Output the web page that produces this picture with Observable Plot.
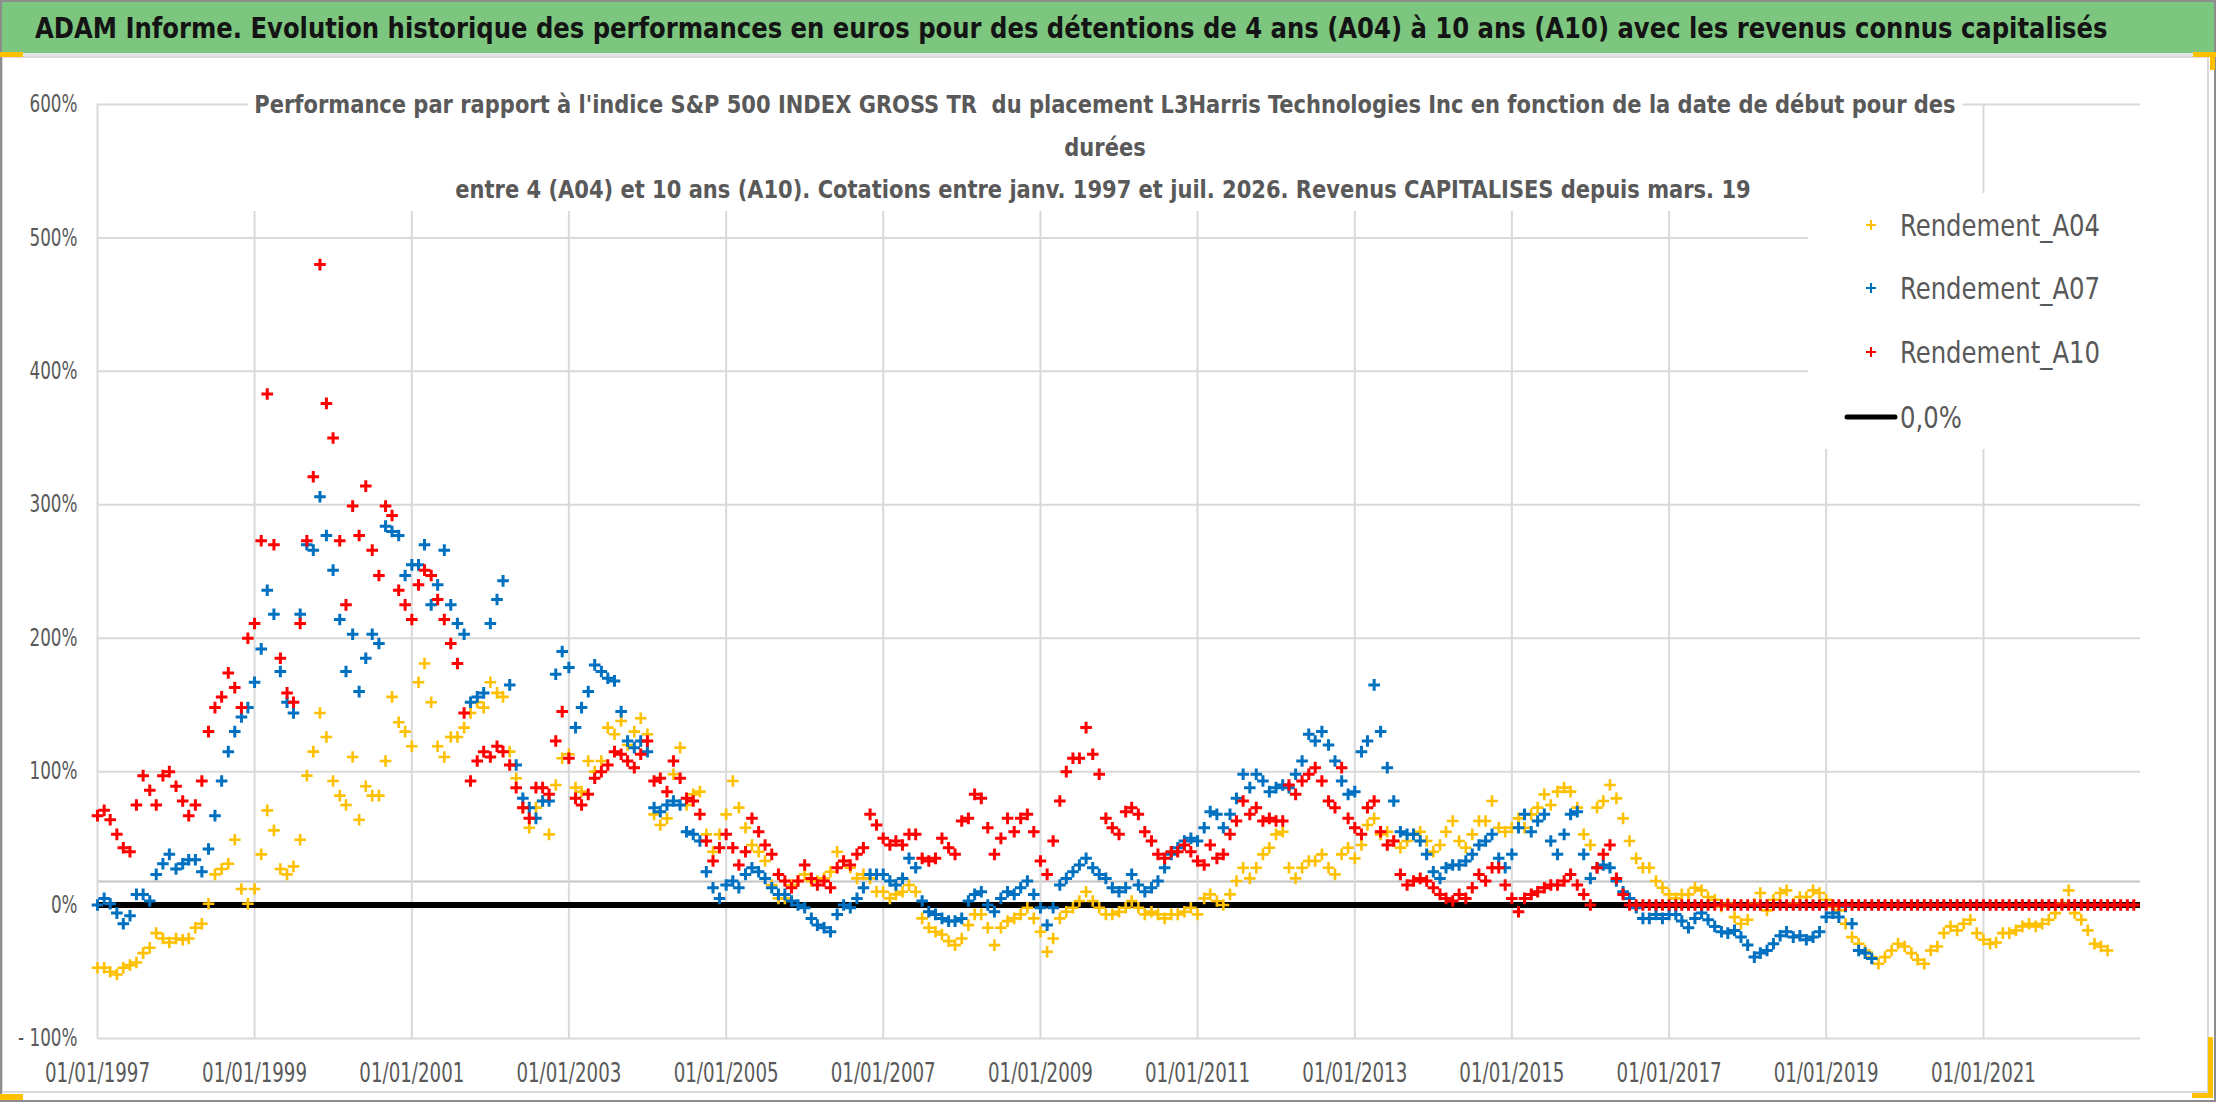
<!DOCTYPE html>
<html><head><meta charset="utf-8">
<script src="https://cdn.jsdelivr.net/npm/d3@7"></script>
<script src="https://cdn.jsdelivr.net/npm/@observablehq/plot@0.6"></script>
<style>
html,body{margin:0;padding:0;background:#fff}
#page{position:relative;width:2216px;height:1102px;overflow:hidden;background:#fff}
#outer{position:absolute;left:0;top:0;width:2216px;height:1102px;box-sizing:border-box;border:2px solid #8c8c8c;pointer-events:none}
#area{position:absolute;left:1px;top:56px;width:2208px;height:1037px;box-sizing:border-box;border:2px solid #d9d9d9;pointer-events:none}
#chart{position:absolute;left:0;top:56px}
#banner{position:absolute;left:0;top:0}
.h{position:absolute;background:#ffc000}
</style></head><body>
<div id="page">
  <svg id="banner" width="2216" height="56"></svg>
  <div id="area"></div>
  <div id="chart"></div>
  <div id="outer"></div>
  <div class="h" style="left:0;top:52px;width:23px;height:5px"></div>
  <div class="h" style="left:2193px;top:52px;width:23px;height:5px"></div>
  <div class="h" style="left:2210px;top:52px;width:5px;height:18px"></div>
  <div class="h" style="left:2192px;top:1093px;width:21px;height:5px"></div>
  <div class="h" style="left:2208px;top:1037px;width:5px;height:61px"></div>
  <div class="h" style="left:0;top:1094px;width:23px;height:6px"></div>
</div>
<script>
// ---- Texts ----
const titleText = "ADAM Informe. Evolution historique des performances en euros pour des détentions de 4 ans (A04) à 10 ans (A10) avec les revenus connus capitalisés";
const subtitleLines = [
  "Performance par rapport à l'indice S&P 500 INDEX GROSS TR  du placement L3Harris Technologies Inc en fonction de la date de début pour des",
  "durées",
  "entre 4 (A04) et 10 ans (A10). Cotations entre janv. 1997 et juil. 2026. Revenus CAPITALISES depuis mars. 19"
];
const seriesNames = ["Rendement_A04", "Rendement_A07", "Rendement_A10"];
const zeroName = "0,0%";

// ---- Axis ticks ----
const yTicks = [-100, 0, 100, 200, 300, 400, 500, 600];
const xTickYears = [1997, 1999, 2001, 2003, 2005, 2007, 2009, 2011, 2013, 2015, 2017, 2019, 2021];
const extraGridValue = 17.7; // grey horizontal rule visible just above 0 %

// ---- Series: monthly values (%) starting January 1997 ----
const rendementA04 = [
-47,-47,-50,-52,-47,-45,-43,-36,-32,-21, -25,-28,-25,-26,-25,-17,-14,1,23,27,
31,49,12,1,12,38,71,56,27,23, 29,49,97,115,144,126,93,82,75,111,
64,89,82,82,108,156,137,130,119,167, 181,152,119,111,126,126,133,144,152,148,
167,159,156,
115,95,73,58,73,78,53,90,110,113, 88,85,108,100,108,133,128,138,120,130,
140,128,68,60,65,98,118,75,83,85, 53,40,53,68,93,73,58,45,40,33,
15,5,5,15,18,23,18,18,20,25, 40,33,28,20,23,20,10,10,5,8, 10,15,
10,-10,-17,-20,-22,-27,-30,-25,-15,-7, -7,-17,-30,-17,-12,-10,-7,-2,-10,-20,
-35,-25,-10,-5,-2,3,10,3,-2,-7, -7,-5,-2,3,-2,-7,-5,-7,-10,-7,
-7,-5,-2,-7,5,8,3,0,8,18, 28,20,28,38,43,53,55,28,20,28, 33,33,38,
28,23,38,43,35,45,60,65,53,55, 48,43,48,53,55,48,40,45,55,63,
48,43,53,63,63,78,58,55,58,65, 58,68,73,83,75,85,88,85,73,53,
45,73,78,90,80,65,48,35,28,28, 18,13,8,5,8,8,13,
11,6,4,-1,1,-9,-14,-11,1,9, -4,4,9,11,1,6,6,11,9,4,
-1,-4,-14,-24,-29,-34,-39,-44,-39,-34, -29,-31,-36,-41,-44,-34,-31,-21,-16,-19,
-14,-11,-21,-26,-29,-28,-21,-21,-19,-16, -14,-16,-14,-11,-6,1,11,-6,-11,-19,
-29,-31,-34
];
const rendementA07 = [
0,5,1,-6,-14,-8,8,8,3,23, 31,38,27,31,34,34,25,42,67,93,
115,130,141,148,167,192,236,218,175,152, 144,218,270,266,306,277,251,214,175,203,
160,185,203,196,284,280,277,247,255,255, 270,225,240,266,225,211,203,152,156,159,
211,229,243,
165,105,80,73,65,78,78,173,190,178, 133,148,160,180,175,170,168,145,123,118,
123,115,73,70,75,78,75,55,53,48, 25,13,5,15,18,13,23,28,25,20,
13,8,8,3,0,-2,-10,-15,-17,-20, -7,0,-2,5,13,23,23,23,18,15, 20,35,
28,3,-5,-7,-10,-12,-12,-10,3,8, 10,0,-5,5,10,8,13,18,8,-2,
-15,-2,15,20,25,30,35,28,23,20, 13,10,13,23,15,10,13,18,28,38,
43,48,50,48,58,70,68,58,68,80, 98,88,98,93,85,88,90,88,98,108, 128,123,130,
120,108,93,83,85,115,123,165,130,103, 78,55,53,53,48,38,25,20,28,30,
30,33,38,45,48,53,35,28,38,58, 68,55,63,68,48,38,53,68,70,38,
20,28,30,28,18,10,5,-2,-10,-10, -7,-10,-7,-7,-12,-17,-10,
-6,-11,-16,-20,-21,-19,-24,-30,-39,-36, -34,-29,-23,-20,-24,-23,-26,-24,-20,-9,
-6,-9,-1,-14,-34,-36,-40
];
const rendementA10 = [
67,71,64,53,43,40,75,97,86,75, 97,100,89,78,67,75,93,130,148,156,
174,163,148,200,211,273,383,270,185,159, 152,211,273,321,480,376,350,273,225,299,
277,314,266,247,299,292,236,225,214,240, 251,247,229,214,196,181,144,93,108,115,
111,119,115,
105,88,73,65,88,88,83,123,145,110, 80,75,83,95,100,105,115,113,108,103,
113,123,93,95,85,108,95,80,78,68, 48,33,43,53,43,30,40,65,55,45,
38,23,18,13,18,30,20,15,18,13, 28,33,30,38,43,68,60,50,45,48, 45,53,
53,35,33,35,50,43,38,63,65,83, 80,58,38,50,65,55,65,68,55,33,
23,48,78,100,110,110,133,113,98,65, 58,53,70,73,68,55,48,38,35,40,
40,45,40,33,30,45,35,38,53,63, 78,68,73,63,65,63,63,90,83,93, 98,103,93,
78,73,103,65,58,53,73,78,55,45, 48,23,15,18,20,18,13,8,5,3,
8,5,13,23,18,28,28,15,5,-5, 5,8,10,13,15,15,18,23,15,8,
0,28,38,45,20,8,0,
0,0,0,0,0,0,0,0,0,0, 0,0,0,0,0,0,0,0,0,0, 0,0,0,0,0,0,0,0,0,0,
0,0,0,0,0,0,0,0,0,0, 0,0,0,0,0,0,0,0,0,0, 0,0,0,0,0,0,0,0,0,0,
0,0,0,0,0,0,0,0,0,0, 0,0,0,0,0,0,0
];
const seriesColors = ["#FFC000", "#0070C0", "#FF0000"];

// ---- Font helpers: size from cap height, width squeezed like the condensed original ----
const FONT = "'Liberation Sans Narrow','DejaVu Sans Condensed','Arial Narrow',sans-serif";
function textWidth(str, size, weight) {
  const s = d3.select("body").append("svg").attr("width", 10).attr("height", 10);
  const t = s.append("text").attr("font-family", FONT).attr("font-size", size).attr("font-weight", weight).text(str);
  const w = t.node().getComputedTextLength();
  s.remove();
  return w;
}
const squeeze = (sample, target, size, weight) => {
  const w = textWidth(sample, size, weight);
  return w > 0 ? Math.min(1, target / w) : 1;
};
function condense(nodes, ratio) {
  nodes.forEach(n => {
    const w = n.getComputedTextLength();
    if (w > 0 && ratio < 1) {
      n.setAttribute("textLength", (w * ratio).toFixed(1));
      n.setAttribute("lengthAdjust", "spacingAndGlyphs");
    }
  });
}
const X_FS = 26, Y_FS = 24, LEG_FS = 30, SUB_FS = 24, TITLE_FS = 29;
const xRatio = squeeze("01/01/1997", 105, X_FS, "normal");
const yRatio = squeeze("600%", 48, Y_FS, "normal");
const legRatio = squeeze("Rendement_A04", 200, LEG_FS, "normal");
const subRatio = squeeze(subtitleLines[0], 1694, SUB_FS, "bold");
const titleRatio = squeeze(titleText, 2073, TITLE_FS, "bold");

// ---- Build table ----
const monthDate = i => new Date(Date.UTC(1997, i, 1));
const toRows = (arr, name) => arr.map((v, i) => ({date: monthDate(i), value: v, serie: name}));
const rowsA04 = toRows(rendementA04, seriesNames[0]);
const rowsA07 = toRows(rendementA07, seriesNames[1]);
const rowsA10 = toRows(rendementA10, seriesNames[2]);
const xTicks = xTickYears.map(y => new Date(Date.UTC(y, 0, 1)));

const plusSymbol = {
  draw(ctx, size) {
    const r = Math.sqrt(size / Math.PI);
    ctx.moveTo(-r, 0); ctx.lineTo(r, 0);
    ctx.moveTo(0, -r); ctx.lineTo(0, r);
  }
};
const pctFmt = d => d < 0 ? "- " + Math.abs(d) + "%" : d + "%";

const chart = Plot.plot({
  width: 2216, height: 1046,
  marginLeft: 97, marginRight: 76, marginTop: 48, marginBottom: 64,
  x: {type: "utc", domain: [new Date(Date.UTC(1997, 0, 1)), new Date(Date.UTC(2023, 0, 1))], axis: null},
  y: {domain: [-100, 600], axis: null},
  style: {fontFamily: FONT, color: "#595959", background: "transparent", overflow: "visible"},
  marks: [
    Plot.ruleY(yTicks, {stroke: "#d9d9d9", strokeWidth: 2}),
    Plot.ruleY([extraGridValue], {stroke: "#c4c4c4", strokeWidth: 2}),
    Plot.ruleX(xTicks, {stroke: "#d9d9d9", strokeWidth: 2}),
    Plot.ruleY([0], {stroke: "#000", strokeWidth: 6}),
    Plot.dot(rowsA04, {x: "date", y: "value", symbol: plusSymbol, r: 5.8, fill: "none", stroke: seriesColors[0], strokeWidth: 2.6}),
    Plot.dot(rowsA07, {x: "date", y: "value", symbol: plusSymbol, r: 5.8, fill: "none", stroke: seriesColors[1], strokeWidth: 3}),
    Plot.dot(rowsA10, {x: "date", y: "value", symbol: plusSymbol, r: 5.8, fill: "none", stroke: seriesColors[2], strokeWidth: 3}),
    Plot.axisX({ticks: xTicks, tickFormat: d3.utcFormat("%d/%m/%Y"), tickSize: 0, tickPadding: 25, fontSize: X_FS, anchor: "bottom", label: null}),
    Plot.axisY({ticks: yTicks, tickFormat: pctFmt, tickSize: 0, tickPadding: 20, fontSize: Y_FS, anchor: "left", label: null})
  ]
});
document.getElementById("chart").appendChild(chart);
const axisTexts = Array.from(chart.querySelectorAll("text"));
condense(axisTexts.filter(t => t.textContent.includes("/")), xRatio);
condense(axisTexts.filter(t => t.textContent.includes("%")), yRatio);

// ---- Overlays: subtitle and legend boxes (svg coords = page y - 56) ----
const svg = d3.select(chart);
const g = svg.append("g").attr("font-family", FONT).attr("text-anchor", "start");
g.append("rect").attr("x", 248).attr("y", 34).attr("width", 1714).attr("height", 121).attr("fill", "#fff");
g.append("rect").attr("x", 1808).attr("y", 137).attr("width", 340).attr("height", 256).attr("fill", "#fff");

const sub = g.append("g").attr("fill", "#595959").attr("font-weight", "bold").attr("font-size", SUB_FS).attr("text-anchor", "middle");
sub.append("text").attr("x", 1105).attr("y", 57).text(subtitleLines[0]);
sub.append("text").attr("x", 1105).attr("y", 100).text(subtitleLines[1]);
sub.append("text").attr("x", 1103).attr("y", 142).text(subtitleLines[2]);
condense(sub.selectAll("text").nodes(), subRatio);

const leg = g.append("g").attr("font-size", LEG_FS).attr("fill", "#595959").attr("text-anchor", "start");
const legY = [169, 232, 296];
seriesNames.forEach((name, i) => {
  const cy = legY[i];
  leg.append("path").attr("d", `M${1866},${cy}h10M${1871},${cy - 5}v10`).attr("stroke", seriesColors[i]).attr("stroke-width", 2).attr("fill", "none");
  leg.append("text").attr("x", 1900).attr("y", cy + 11).text(name);
});
leg.append("line").attr("x1", 1847).attr("x2", 1895).attr("y1", 361).attr("y2", 361).attr("stroke", "#000").attr("stroke-width", 5).attr("stroke-linecap", "round");
leg.append("text").attr("x", 1900).attr("y", 372).text(zeroName);
condense(leg.selectAll("text").nodes(), legRatio);

// ---- Banner title (horizontally scaled group instead of textLength) ----
const b = d3.select("#banner");
b.append("rect").attr("x", 0).attr("y", 0).attr("width", 2216).attr("height", 56).attr("fill", "#fff");
b.append("rect").attr("x", 2).attr("y", 2).attr("width", 2212).attr("height", 51).attr("fill", "#7dc67f");
b.append("rect").attr("x", 2).attr("y", 53).attr("width", 2212).attr("height", 3).attr("fill", "#e4e4e4");
b.append("g").attr("transform", `translate(35,38) scale(${titleRatio},1)`)
  .append("text").attr("x", 0).attr("y", 0).attr("font-family", FONT).attr("font-weight", "bold")
  .attr("font-size", TITLE_FS).attr("fill", "#141414").attr("text-anchor", "start").text(titleText);
</script>
</body></html>
